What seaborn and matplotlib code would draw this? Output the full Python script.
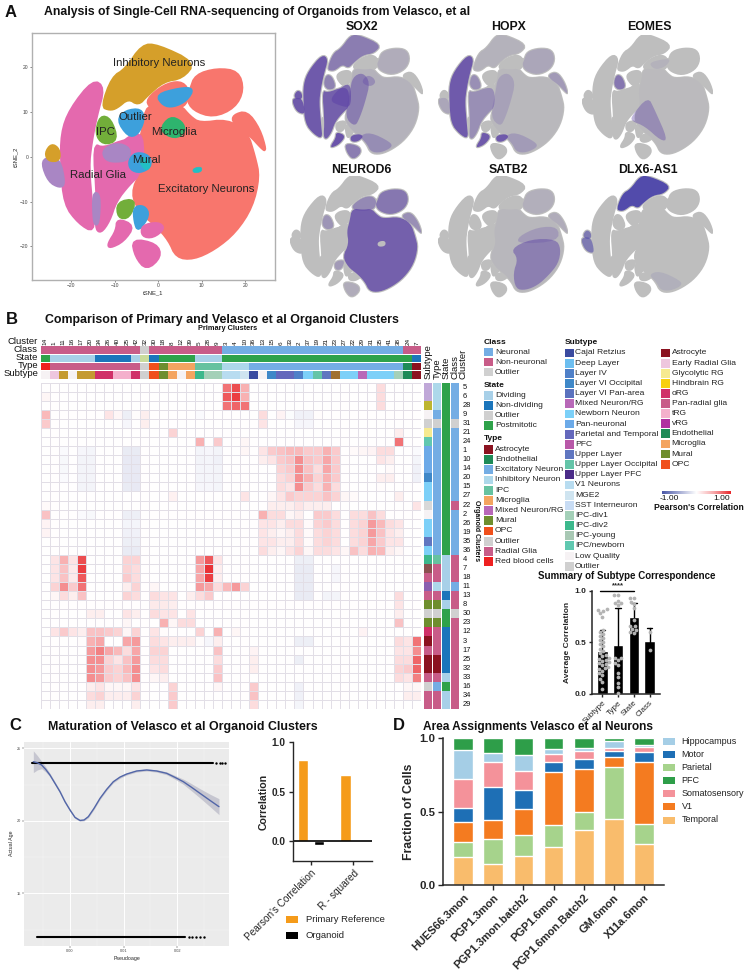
import warnings
import numpy as np
import pandas as pd
import matplotlib
matplotlib.use("Agg")
import matplotlib.pyplot as plt
from matplotlib.colors import ListedColormap, LinearSegmentedColormap
from matplotlib.patches import Rectangle
import seaborn as sns

warnings.filterwarnings("ignore")
sns.set_theme(style="white")
plt.rcParams["font.family"] = ["Liberation Sans", "DejaVu Sans"]

# ---------------- DATA: tSNE cluster outlines (tSNE_1, tSNE_2) ----------------
EN_MAIN = [(-6.2,-8.2),(-3.8,-3.0),(-4.6,2.2),(-3.5,6.3),(-2.6,11.6),(1.9,11),(5.0,11.5),(7.3,8.9),(9.6,7.4),(15.8,8.2),(20.4,5.6),(22.2,0),(23.2,-4.5),(21.6,-11.2),(17.8,-16.8),(13,-20.6),(8.1,-22.8),(4.2,-22.4),(2.5,-18.6),(-0.6,-15.2),(-4,-12.6)]
EN_UP = [(7.4,14.9),(8.6,18.2),(13.5,19.6),(18.4,19),(19.6,14.9),(17.6,11),(12.7,8.9),(8.1,10.4),(6.6,13)]
EN_SLIVER = [(17.3,9.2),(20.4,10.1),(23.3,6.2),(24.8,1.3),(23.8,2.0),(21.2,4.8),(17.3,7.6)]
EN_MID = [(-2.6,12.8),(1.2,15.9),(5,16.8),(7,15),(6.5,12),(5,11),(1.9,10.4),(-1.9,11)]
INH = [(-13,11.2),(-10.6,17.7),(-7.5,19.5),(-3.7,24.9),(-0.2,24.9),(8.4,21),(5.6,17.6),(1.2,16.9),(-2.7,13.6),(-4.6,11.6),(-6.9,13.1),(-9.6,10.9),(-11.2,10.5)]
RG_OUT = [(-22.3,5.2),(-20.3,10.6),(-15,17.1),(-12.5,15.4),(-14.3,9),(-15.5,3),(-16.1,-2.2),(-15.3,-11.2),(-14.8,-16.8),(-18.3,-14.8),(-21.6,-10.6),(-22.3,-2.2)]
RG_IN = [(-14.9,2.8),(-12.7,1.8),(-7.3,3.9),(-4.4,3.2),(-4.2,-3.9),(-6.7,-6.1),(-9.8,-9.9),(-11.3,-14.3),(-13.3,-17),(-14.4,-15.8),(-14,-9.7)]
RG_BRIDGE = [(-9,2.8),(-4,6),(-3.4,-0.5),(-4.2,-4.2),(-8,-3.4),(-12,-1.5)]
LEFT_PURPLE = [(-26.8,-1.5),(-25.6,-0.2),(-22.8,-0.5),(-21.6,-6),(-22.7,-6.8),(-25.2,-5.5)]
LEFT_GOLD = [(-26,0.8),(-24.6,2.8),(-22.9,1.7),(-22.8,-0.8),(-25.2,-0.9)]
IPC = [(-13.3,9.1),(-11,8.4),(-9.4,3.7),(-12.7,2.8),(-14.4,5.2)]
OUTLIER = [(-7.5,10.2),(-4,10.6),(-3.3,8.2),(-4.8,5),(-6.9,4.6),(-9.4,8.2)]
CENTER_PURPLE = [(-12.7,1.5),(-9.6,3),(-6.5,1.9),(-6.9,-0.7),(-10.4,-1.1),(-12.3,-0.4)]
MURAL_BLUE = [(-6.7,-0.7),(-5,0.9),(-2.1,0.2),(-1.7,-2.2),(-4.2,-3.5),(-6.4,-2.8)]
MURAL_TEAL = [(-3.8,0),(-1.9,-1.5),(-2.6,-3),(-4,-1.5)]
MICROGLIA = [(2.7,8.9),(5.4,7.8),(6.2,5.6),(3.8,4.1),(0.4,5.9)]
TOP_BLUE = [(-0.4,13.8),(5,15.2),(8.1,15.2),(6.5,12.6),(3.5,11.2),(1.2,11.5)]
TEAL_SPOT = [(8,-2.6),(10,-2.2),(10,-3.4),(8,-3.6)]
LOW_GREEN = [(-9.4,-10.2),(-5.2,-9.5),(-6.7,-13.6),(-9.2,-13.6)]
LOW_BLUE = [(-5.6,-11.3),(-3.3,-11),(-2.1,-13),(-4.6,-16.6),(-5.4,-14.5)]
LOW_PURPLE = [(-15,-8),(-13.5,-8.5),(-13.8,-15),(-14.8,-15)]
LOBE_A = [(-9.4,-13.9),(-5.6,-15.4),(-8,-18.8),(-11.2,-20.3),(-11.5,-19.4),(-9.6,-16.5)]
LOBE_B = [(-3.7,-15.4),(0,-14.7),(1.4,-16),(-1.2,-18),(-3.7,-17.7)]
LOBE_C = [(-6,-18.4),(-0.4,-19.5),(0.6,-22.3),(-2.7,-25.2),(-5.2,-22.3)]

OUTLINES = [EN_MAIN, EN_UP, EN_SLIVER, EN_MID, INH, RG_OUT, RG_IN, RG_BRIDGE, LEFT_PURPLE, LEFT_GOLD, IPC, OUTLIER,
            CENTER_PURPLE, MURAL_BLUE, MURAL_TEAL, MICROGLIA, TOP_BLUE, LOW_GREEN, LOW_BLUE, LOW_PURPLE, LOBE_A, LOBE_B, LOBE_C]
OUTLINE_CLASS = ["Ex", "Ex", "Ex", "Ex", "In", "RG", "RG", "RG", "Pu", "Go", "IPC", "Ou", "Pu", "Ou", "Mu", "Mi", "Ou", "IPC", "Ou", "Pu", "RG", "RG", "RG"]

TSNE_LABELS = ["Inhibitory Neurons", "Outlier", "IPC", "Microglia", "Mural", "Radial Glia", "Excitatory Neurons"]
TSNE_LABEL_X = [0.15, -5.2, -12.2, 3.6, -2.7, -13.8, 11]
TSNE_LABEL_Y = [21, 8.9, 5.5, 5.5, -0.7, -4.1, -7.1]

# gene expression zones
EN_WEST = [(-6,-8),(-4,2),(-3,8),(1,10),(4,6),(2,-2),(0,-8),(-2,-12)]
EN_SOUTH = [(-0.4,-15.6),(4,-14),(12,-18),(12.7,-20.1),(8.1,-22.3),(4.2,-21.9),(2.7,-18.6)]
EOMES_ZONE = [(-7.3,-7.6),(-0.8,0.3),(1.8,-5),(7,-17),(4.4,-17.6),(-2.1,-11.6),(-7.3,-9.6)]
SATB2_LOW = [(2,-5),(10,-1),(20,-1),(22,-5),(21,-11),(17,-16),(12.7,-20),(8,-22),(4,-21.5),(3,-15),(5,-9)]
SATB2_MID = [(5,0),(13,4),(21,4),(21,-2),(5,-3)]
SOX2_ZONES = [(RG_OUT,.85),(RG_IN,.8),(RG_BRIDGE,.7),(LEFT_PURPLE,.85),(LEFT_GOLD,.85),(INH,.55),(IPC,.5),(LOBE_A,.9),(LOBE_B,.85),(LOBE_C,.55),(EN_WEST,.5),(EN_SOUTH,.35),(EN_MAIN,.1),(EN_UP,.15),(MICROGLIA,.35)]
HOPX_ZONES = [(RG_OUT,.85),(RG_IN,.4),(LEFT_PURPLE,.2),(LOBE_A,.85),(LOBE_B,.85),(INH,.1),(EN_UP,.2),(EN_SLIVER,.3),(EN_WEST,.2),(EN_SOUTH,.25),(EN_MAIN,.05),(IPC,.4)]
EOMES_ZONES = [(IPC,.6),(EOMES_ZONE,.4),(EN_MAIN,.03),(TOP_BLUE,.1)]
NEUROD6_ZONES = [(EN_MAIN,.8),(EN_MID,.45),(EN_UP,.6),(EN_SLIVER,.4),(IPC,.35),(LOBE_C,.15),(LOW_GREEN,.3)]
SATB2_ZONES = [(SATB2_LOW,.5),(SATB2_MID,.25),(EN_MAIN,.06),(EN_UP,.12),(EN_SLIVER,.15)]
DLX6_ZONES = [(INH,.85),(LEFT_GOLD,.5),(LEFT_PURPLE,.5),(EN_SOUTH,.1)]
GENES = ["SOX2", "HOPX", "EOMES", "NEUROD6", "SATB2", "DLX6-AS1"]
GENE_ZONES = [SOX2_ZONES, HOPX_ZONES, EOMES_ZONES, NEUROD6_ZONES, SATB2_ZONES, DLX6_ZONES]

# ---------------- DATA: heatmap ----------------
COL_CLUSTERS = ["14","1","11","16","17","20","34","26","40","25","42","32","30","18","8","12","39","5","28","9","3","4","10","36","13","15","6","33","2","37","19","21","23","27","22","29","31","35","41","38","24","7"]
ROW_CLUSTERS = ["5","6","28","9","31","21","24","1","10","14","20","15","27","22","2","26","19","35","36","4","7","18","11","13","8","30","23","12","3","17","25","32","33","16","34","29"]
# per organoid cluster: {primary column index: correlation in percent}
HEAT_ROWS = [
 {20:70,21:85,22:45,28:-2,37:20},
 {0:5,20:80,21:90,22:45,37:20},
 {20:70,21:75,22:70,37:20},
 {0:40,7:15,8:5,9:-10,10:2,11:10,17:-3,24:20,26:7,27:-2,28:-8,29:-8,30:2},
 {0:30,9:-5,11:10,24:15,28:-5,29:-5},
 {14:25,39:10},
 {17:45,19:30,22:5,39:70},
 {2:-3,4:-5,5:-6,9:-12,10:-12,17:-6,18:-5,19:-7,22:5,24:15,25:30,26:35,27:40,28:40,29:30,30:30,31:45,32:30,34:3,35:5,36:7,37:20,38:20,41:-3},
 {2:-4,4:-7,5:-7,9:-13,10:-13,17:-7,18:-6,19:-8,24:10,25:15,26:30,27:35,28:60,29:35,30:30,31:50,32:30,37:15,38:10,41:-6},
 {2:-4,4:-7,5:-7,9:-13,10:-13,17:-6,18:-6,19:-7,26:25,27:30,28:60,29:35,30:20,31:50,32:30,38:3,41:-8},
 {2:-3,4:-7,5:-7,9:-13,10:-13,17:-6,18:-6,19:-7,26:20,27:25,28:60,29:45,30:25,31:45,32:30,37:10,38:10,41:-8},
 {4:-7,5:-7,9:-12,10:-13,17:-5,18:-5,19:-6,26:20,27:15,28:60,29:30,30:20,31:45,32:20,37:2},
 {14:8,22:15,25:5,26:15,27:30,28:25,29:25,30:25,31:35,32:25,33:5,34:3,39:10},
 {0:3,25:10,26:10,27:10,28:15,29:10,30:10,31:10,41:15},
 {0:35,4:-3,5:-4,9:-10,10:-10,24:45,25:20,26:20,27:5,28:10,30:30,31:30,32:20,34:20,35:20,36:35,37:20},
 {0:7,9:-6,10:-6,24:15,25:15,26:10,27:20,28:20,29:3,30:25,31:30,32:20,34:20,35:25,36:55,37:40,38:20,39:15},
 {0:7,9:-8,10:-8,24:15,25:10,26:5,27:10,28:20,29:3,30:20,31:25,32:20,34:20,35:25,36:55,37:35,38:15,39:10},
 {9:-10,10:-10,24:15,25:15,26:10,27:10,28:20,29:3,30:20,31:25,32:20,34:20,35:25,36:50,37:30,38:15,39:15},
 {9:-12,10:-12,24:20,25:10,26:5,27:15,28:25,29:5,30:20,31:20,32:15,33:5,34:35,35:20,36:45,37:40,38:10,39:5},
 {1:15,2:45,3:15,4:85,9:25,10:25,17:55,18:80,19:15,28:-10,29:-10},
 {1:15,2:35,3:12,4:90,9:25,10:20,17:50,18:95,19:10,28:-12,29:-12,32:-5},
 {1:15,2:35,3:12,4:80,9:30,10:20,17:50,18:90,19:10,28:-12,29:-12,32:-5},
 {1:25,2:60,3:30,4:70,9:10,10:25,12:5,17:55,18:50,19:20,20:40,21:55,22:25,28:-12,29:-12},
 {1:5,2:20,3:10,4:35,9:25,10:20,12:20,13:15,14:15,16:10,17:20,18:30,28:-12,29:-12,31:-7,32:-7,39:20},
 {12:12,13:12,14:10,39:15},
 {5:10,6:10,9:15,10:10,12:20,13:15,14:15,16:15,39:10},
 {9:5,13:45,14:5,15:20,16:20,39:35},
 {1:15,2:30,3:15,4:10,5:35,6:35,7:30,8:25,9:5,10:25,12:15,13:2,17:25,19:45,21:5,35:7},
 {4:2,5:45,6:50,9:50,10:55,12:20,13:15,14:10,15:10,16:10,17:2,18:-5,19:10,28:-10,29:-10,39:20,40:15,41:70},
 {5:55,6:65,7:50,8:40,9:20,10:50,12:25,13:25,19:35,23:7,39:15,40:15,41:60},
 {5:60,6:60,7:25,8:15,9:35,10:55,12:20,13:20,19:20,23:10,28:-10,39:20,40:20,41:75},
 {5:60,6:55,7:30,8:25,9:40,10:60,12:15,13:20,19:30,23:10,39:25,40:30,41:75},
 {5:60,6:55,7:30,8:25,9:35,10:60,12:5,13:10,19:35,39:20,40:15,41:65},
 {5:10,6:15,7:5,8:5,9:5,10:15,14:25,19:5,23:30,28:-8,40:5,41:5},
 {5:20,6:25,7:10,8:10,9:10,10:25,14:30,23:35,28:-8,40:10,41:10},
 {5:10,6:10,10:10,14:30,23:20,28:-6},
]

CLASS_NAMES = ["Neuronal", "Non-neuronal", "Outlier"]
STATE_NAMES = ["Dividing", "Non-dividing", "Outlier", "Postmitotic"]
TYPE_NAMES = ["Astrocyte", "Endothelial", "Excitatory Neuron", "Inhibitory Neuron", "IPC", "Microglia", "Mixed Neuron/RG", "Mural", "OPC", "Outlier", "Radial Glia", "Red blood cells"]
SUBTYPE_NAMES_A = ["Cajal Retzius", "Deep Layer", "Layer IV", "Layer VI Occipital", "Layer VI Pan-area", "Mixed Neuron/RG", "Newborn Neuron", "Pan-neuronal", "Parietal and Temporal", "PFC", "Upper Layer", "Upper Layer Occipital", "Upper Layer PFC", "V1 Neurons", "MGE2", "SST Interneuron", "IPC-div1", "IPC-div2", "IPC-young", "IPC/newborn", "Low Quality", "Outlier"]
SUBTYPE_NAMES_B = ["Astrocyte", "Early Radial Glia", "Glycolytic RG", "Hindbrain RG", "oRG", "Pan-radial glia", "tRG", "vRG", "Endothelial", "Microglia", "Mural", "OPC"]

N, NN, OT = "Neuronal", "Non-neuronal", "Outlier"
DI, ND, PM = "Dividing", "Non-dividing", "Postmitotic"
TOP_CLASS = [NN]*11 + [OT] + [NN]*8 + [N]*20 + [NN]*2
TOP_STATE = [PM] + [DI]*5 + [ND]*4 + [DI] + ["OutlierG"] + [ND] + [PM]*4 + [DI]*3 + [PM]*21 + [ND]
TOP_TYPE = ["Red blood cells"] + ["Radial Glia"]*10 + ["Outlier", "OPC", "Mural"] + ["Microglia"]*3 + ["IPC"]*3 + ["Inhibitory Neuron"]*3 + ["Excitatory Neuron"]*17 + ["Endothelial", "Astrocyte"]
TOP_SUBTYPE = ["Low Quality","Early Radial Glia","Gold","Low Quality","Gold","Gold","oRG","oRG","tRG","tRG","oRG","Outlier","OPC","Mural","Microglia","Low Quality","Microglia","IPC-div2","IPC-div1","IPC-div1","V1 Neurons","V1 Neurons","MGE2","Cajal Retzius","Low Quality","Layer VI Occipital","Parietal and Temporal","Parietal and Temporal","Layer IV","Newborn Neuron","Upper Layer Occipital","Upper Layer","Brown","Newborn Neuron","Newborn Neuron","Mixed Neuron/RG","Newborn Neuron","Newborn Neuron","Newborn Neuron","IPC-div1","Endothelial","Astrocyte"]
RIGHT_SUBTYPE = ["Lilac","Lilac","OliveY","Low Quality","Outlier","Glycolytic RG","IPC/newborn","Pan-neuronal","Pan-neuronal","Pan-neuronal","Layer VI Occipital","Newborn Neuron","Newborn Neuron","MGE3","Low Quality","Newborn Neuron","Newborn Neuron","Upper Layer","Newborn Neuron","IPC-div2","BrownR","Pan-radial glia","Violet","Pan-radial glia","Mural","Outlier","Mural","oRG","Astrocyte","Pan-radial glia","Astrocyte","Astrocyte","Pan-radial glia","Outlier","Pan-radial glia","Pan-radial glia"]
RIGHT_TYPE = ["Inhibitory Neuron"]*3 + ["Excitatory Neuron","Outlier"] + ["Excitatory Neuron"]*14 + ["IPC","Radial Glia","Radial Glia","Inhibitory Neuron","Radial Glia","Mural","Outlier","Mural","Radial Glia","Radial Glia","Radial Glia","Astrocyte","Astrocyte","Radial Glia","Excitatory Neuron","Radial Glia","Radial Glia"]
RIGHT_STATE = [PM]*19 + [DI]*4 + [ND,DI,PM,PM] + [ND]*5 + [DI,PM,DI,DI]
RIGHT_CLASS = [N]*4 + [OT] + [N]*8 + [NN] + [N]*5 + [NN]*3 + [N] + [NN]*2 + [OT] + [NN]*10

# ---------------- DATA: summary bars ----------------
SUMMARY_GROUPS = ["Subtype", "Type", "State", "Class"]
SUMMARY_SUBTYPE = [.05,.12,.15,.18,.2,.22,.24,.25,.26,.28,.78,.81,.29,.3,.31,.32,.33,.34,.35,.37,.38,.4,.42,.44,.46,.48,.5,.52,.54,.56,.58,.6,.62,.75,.8,.82]
SUMMARY_TYPE = [.01,.07,.11,.16,.2,.28,.3,.33,.35,.35,.86,.88,.88,.9,.96,.96]
SUMMARY_STATE = [.59,.6,.62,.63,.66,.66,.72,.83,.87,.89,.93,.93]
SUMMARY_CLASS = [.43,.6]

# ---------------- DATA: panel C ----------------
CURVE_X = [-.00683,-.00609,-.00528,-.00453,-.00373,-.00280,-.00186,-.00093,0,.00093,.00186,.00261,.00342,.00447,.00559,.00683,.00807,.00932,.01056,.01242,.01429,.01615,.01801,.01957,.02112,.02267,.02422,.02609,.02776]
CURVE_Y = [24.08,24.01,23.85,23.55,23.16,22.59,22.01,21.32,20.75,20.24,20.03,20.06,20.29,20.86,21.55,22.17,22.70,23.02,23.23,23.44,23.51,23.44,23.28,23.0,22.7,22.31,21.9,21.41,20.98]
CURVE_CI = [.75,.5,.25,.18,.12,.11,.1,.09,.08,.07,.06,.06,.08,.08,.08,.08,.08,.08,.07,.07,.07,.08,.1,.13,.18,.25,.32,.43,.55]
AGE_OLD_SPAN = [-.0070, .0267]
AGE_OLD_EXTRA = [.0272,.0280,.0284,.0288]
AGE_YOUNG_SPAN = [-.0062, .0215]
AGE_YOUNG_EXTRA = [.0222,.0228,.0235,.0242,.0250]
CORR_LABELS = ["Pearson's Correlation", "R - squared"]
CORR_PRIMARY = [.82, .665]
CORR_ORGANOID = [-.04, 0]

# ---------------- DATA: panel D ----------------
SAMPLES = ["HUES66.3mon","PGP1.3mon","PGP1.3mon.batch2","PGP1.6mon","PGP1.6mon.Batch2","GM.6mon","X11a.6mon"]
TEMPORAL = [.193,.14,.2,.26,.377,.452,.28]
PARIETAL = [.097,.174,.143,.147,.123,.353,.136]
V1 = [.142,.126,.173,.366,.29,.07,.424]
MOTOR = [.095,.23,.129,.067,.067,.041,.07]
SOMATO = [.193,.17,.135,.05,.059,.02,.033]
HIPPO = [.2,.06,.104,.037,.02,.046,.012]
PFC = [.08,.1,.116,.073,.064,.018,.045]

# ---------------- STYLE ----------------
FIG_W, FIG_H = 750, 977
fig = plt.figure(figsize=(FIG_W/100, FIG_H/100), dpi=100, facecolor="white")

def box(l, t, r, b):
    return fig.add_axes([l/FIG_W, 1-b/FIG_H, (r-l)/FIG_W, (b-t)/FIG_H])

ov = fig.add_axes([0, 0, 1, 1], zorder=20)
ov.set_xlim(0, FIG_W); ov.set_ylim(FIG_H, 0); ov.axis("off"); ov.patch.set_alpha(0)

def T(x, y, s, size=7, bold=False, ha="left", va="center", rot=0, color="#111111", mode="default"):
    ov.text(x, y, s, fontsize=size, fontweight="bold" if bold else "normal", ha=ha, va=va,
            rotation=rot, color=color, rotation_mode=mode)

def rounded(poly, passes=2):
    """Corner-cut an outline so that drawn blobs have soft edges."""
    pts = np.array(poly, dtype=float)
    for _ in range(passes):
        nxt = np.roll(pts, -1, axis=0)
        pts = np.column_stack([.75*pts+.25*nxt, .25*pts+.75*nxt]).reshape(-1, 2)
    return pts[:, 0], pts[:, 1]

CLUSTER_COLORS = {"Ex":"#F8766D","In":"#D59F2A","RG":"#E469AE","Pu":"#A986C4","Go":"#D59F2A","IPC":"#72AE3A","Ou":"#3DA0DC","Mu":"#22BFC4","Mi":"#2EB46E"}
CLASS_COL = dict(zip(CLASS_NAMES, ["#74ADE4","#C85C88","#D0D0D0"]))
STATE_COL = dict(zip(STATE_NAMES, ["#A8D0E8","#1B75BB","#D0D0D0","#2EA24A"]))
TYPE_COL = dict(zip(TYPE_NAMES, ["#8B1220","#1E8B58","#74ADE4","#ADD8EA","#66C2A0","#F4A460","#B868B8","#6E8E2E","#F0501C","#D0D0D0","#C85C88","#EE2020"]))
SUB_A_COL = dict(zip(SUBTYPE_NAMES_A, ["#3B4BA0","#6CBEF0","#4F80C8","#3F88C8","#5A72BE","#B868B8","#7CD0F8","#6CAAE8","#6468BC","#B858A8","#6076C0","#64C4A8","#4B2C88","#B8DCF0","#CFE4F0","#C8DCF4","#A4D0B8","#3CB88C","#A8C8B4","#60C8B0","#F6F2F4","#D0D0D0"]))
SUB_B_COL = dict(zip(SUBTYPE_NAMES_B, ["#8B1220","#EEC6DE","#F6EA90","#F8D010","#D03068","#C85C88","#F4B0CC","#B030A0","#1E8B58","#F4A460","#6E8E2E","#F0501C"]))
EXTRA_COL = {"Gold":"#C49A30","Brown":"#A07030","Lilac":"#C0A8D8","OliveY":"#BDB530","MGE3":"#D8D8D8","BrownR":"#8B5050","Violet":"#8A5FB0","OutlierG":"#CADC9C"}
ALL_COL = {**CLASS_COL, **STATE_COL, **TYPE_COL, **SUB_A_COL, **SUB_B_COL, **EXTRA_COL}

# ---------------- Panel A ----------------
T(5, 12.5, "A", 12, True); T(44, 12.5, "Analysis of Single-Cell RNA-sequencing of Organoids from Velasco, et al", 8.8, True)
ax = box(32, 33, 275, 280)
for poly, cat in zip(OUTLINES, OUTLINE_CLASS):
    xs, ys = rounded(poly)
    ax.fill(xs, ys, color=CLUSTER_COLORS[cat], lw=2.2, joinstyle="round")
xs, ys = rounded(TEAL_SPOT); ax.fill(xs, ys, color=CLUSTER_COLORS["Mu"], lw=0.5)
for s, x, y in zip(TSNE_LABELS, TSNE_LABEL_X, TSNE_LABEL_Y):
    ax.text(x, y, s, fontsize=8.2, ha="center", va="center", color="#222222")
ax.set_xlim(-29.1, 26.9); ax.set_ylim(-27.5, 27.6)
ax.set_xticks([-20, -10, 0, 10, 20]); ax.set_yticks([-20, -10, 0, 10, 20])
ax.tick_params(labelsize=3.6, length=1.5, width=.4, bottom=True, left=True, pad=1, labelcolor="#444444")
ax.set_xlabel("tSNE_1", fontsize=4.2, labelpad=1); ax.set_ylabel("tSNE_2", fontsize=4.2, labelpad=1)
for s in ax.spines.values():
    s.set_color("#B0B0B0"); s.set_linewidth(1)

GENE_BOXES = [(292, 35, 423, 160), (438, 35, 568, 160), (582, 35, 713, 160),
              (290, 176, 422, 298), (438, 176, 568, 298), (581, 176, 713, 298)]
GENE_TITLE_X = [362, 509, 649, 361, 508, 648]
GENE_TITLE_Y = [26.7, 26.7, 26.7, 170, 170, 170]
PURPLE = "#6249A8"
for gene, zones, (l, t, r, b), tx, ty in zip(GENES, GENE_ZONES, GENE_BOXES, GENE_TITLE_X, GENE_TITLE_Y):
    a = box(l, t, r, b)
    for poly in OUTLINES:
        xs, ys = rounded(poly)
        a.fill(xs, ys, color="#BEBEBE", lw=1.6, joinstyle="round")
    for poly, alpha in zones:
        xs, ys = rounded(poly)
        a.fill(xs, ys, color="#3F37A8" if gene == "DLX6-AS1" else PURPLE, alpha=alpha, lw=0)
    if gene == "NEUROD6":
        xs, ys = rounded(TEAL_SPOT); a.fill(xs, ys, color="#BEBEBE", lw=2)
    a.set_xlim(-26.8, 24.8); a.set_ylim(-25.2, 24.9); a.axis("off")
    T(tx, ty, gene, 8.8, True, ha="center")

# ---------------- Panel B ----------------
T(6, 320, "B", 12, True); T(45, 320, "Comparison of Primary and Velasco et al Organoid Clusters", 8.95, True)
T(228, 329, "Primary Clusters", 5.3, True, ha="center")
HX0, HX1, HY0, HY1 = 40.7, 421.3, 382.7, 709
hax = box(HX0, HY0, HX1, HY1)
heat = pd.DataFrame(0.0, index=ROW_CLUSTERS, columns=range(len(COL_CLUSTERS)))
for row, cells in zip(ROW_CLUSTERS, HEAT_ROWS):
    for col, val in cells.items():
        heat.loc[row, col] = val/100
corr_cmap = LinearSegmentedColormap.from_list("corr", [(0, "#4A58A8"), (.5, "#FFFFFF"), (.75, "#F7A8AA"), (1, "#E8262A")])
sns.heatmap(heat, ax=hax, cmap=corr_cmap, vmin=-1, vmax=1, cbar=False, linewidths=.4, linecolor="#E2DEE6",
            xticklabels=False, yticklabels=False)
for s in hax.spines.values():
    s.set_visible(False)

def track(values, l, t, r, b, horizontal=True):
    a = box(l, t, r, b)
    cats = list(dict.fromkeys(values))
    codes = np.array([cats.index(v) for v in values], dtype=float)
    mat = codes[None, :] if horizontal else codes[:, None]
    sns.heatmap(mat, ax=a, cmap=ListedColormap([ALL_COL[c] for c in cats]), vmin=-.5, vmax=len(cats)-.5,
                cbar=False, xticklabels=False, yticklabels=False)
    return a

track(TOP_CLASS, HX0, 346, HX1, 353.7)
track(TOP_STATE, HX0, 354.5, HX1, 362)
track(TOP_TYPE, HX0, 362.5, HX1, 370)
track(TOP_SUBTYPE, HX0, 370.8, HX1, 379)
track(RIGHT_SUBTYPE, 424, HY0, 431.7, HY1, False)
track(RIGHT_TYPE, 433, HY0, 440.7, HY1, False)
track(RIGHT_STATE, 442, HY0, 449.7, HY1, False)
track(RIGHT_CLASS, 451, HY0, 458.7, HY1, False)
for name, y in zip(["Cluster", "Class", "State", "Type", "Subtype"], [341, 350, 358, 366, 374]):
    T(38, y, name, 6.8, ha="right")
for name, x in zip(["Subtype", "Type", "State", "Class", "Cluster"], [428, 437, 446, 455, 463.5]):
    T(x, 379, name, 6.8, ha="center", va="bottom", rot=90)
cw = (HX1-HX0)/len(COL_CLUSTERS)
for i, c in enumerate(COL_CLUSTERS):
    T(HX0+(i+.5)*cw, 345, c, 4.6, ha="center", va="bottom", rot=90)
ch = (HY1-HY0)/len(ROW_CLUSTERS)
for i, c in enumerate(ROW_CLUSTERS):
    T(462.5, HY0+(i+.5)*ch, c, 5.4)
T(476.5, 531, "Organoid Clusters", 5, True, ha="center", rot=-90)

def legend_col(title, title_y, names, colors, y0, step, sx, tx, size=6.1):
    if title:
        T(sx, title_y, title, 6, True)
    for i, nm in enumerate(names):
        y = y0+i*step
        ov.add_patch(Rectangle((sx, y-4.4), 9, 8.8, fc=colors[nm], ec="none"))
        T(tx, y, nm, size, color="#222222")

legend_col("Class", 342, CLASS_NAMES, CLASS_COL, 352, 10, 483.5, 495)
legend_col("State", 385.7, STATE_NAMES, STATE_COL, 395.3, 10.1, 483.5, 495)
legend_col("Type", 439, TYPE_NAMES, TYPE_COL, 449.3, 10.2, 483.5, 495)
legend_col("Subtype", 342, SUBTYPE_NAMES_A, SUB_A_COL, 353, 10.15, 565, 575)
legend_col(None, 0, SUBTYPE_NAMES_B, SUB_B_COL, 353, 10.1, 661, 671.7)
cax = box(661.7, 490.7, 730, 494)
cax.imshow(np.linspace(-1, 1, 256)[None, :], cmap=corr_cmap, aspect="auto", vmin=-1, vmax=1)
cax.axis("off")
T(669, 499, "-1.00", 6, ha="center"); T(722, 499, "1.00", 6, ha="center")
T(699, 507.7, "Pearson's Correlation", 6.2, True, ha="center")

# summary
T(626.7, 576, "Summary of Subtype Correspondence", 7, True, ha="center")
sax = box(591.7, 590.7, 660, 694)
sdf = pd.DataFrame({"group": sum([[g]*len(v) for g, v in zip(SUMMARY_GROUPS, [SUMMARY_SUBTYPE, SUMMARY_TYPE, SUMMARY_STATE, SUMMARY_CLASS])], []),
                    "value": SUMMARY_SUBTYPE+SUMMARY_TYPE+SUMMARY_STATE+SUMMARY_CLASS})
sns.barplot(data=sdf, x="group", y="value", order=SUMMARY_GROUPS, color="black", saturation=1, width=.68,
            errorbar="sd", capsize=.35, err_kws={"color": "black", "linewidth": 1}, ax=sax)
sns.swarmplot(data=sdf, x="group", y="value", order=SUMMARY_GROUPS, color="#B4B4B4", size=2.7, ax=sax, zorder=5, clip_on=False)
sax.set_xlim(-.67, 3.65); sax.set_ylim(0, 1)
sax.set_yticks([0, .5, 1]); sax.set_yticklabels(["0.0", "0.5", "1.0"], fontsize=6, fontweight="bold")
sax.set_xlabel(""); sax.set_ylabel("Average Correlation", fontsize=6, fontweight="bold", labelpad=2)
sax.set_xticks(range(4)); sax.set_xticklabels(SUMMARY_GROUPS, rotation=45, ha="right", rotation_mode="anchor", fontsize=5.8)
sax.tick_params(length=2.5, width=1, bottom=True, left=True, pad=1.5)
sns.despine(ax=sax)
for s in ("left", "bottom"):
    sax.spines[s].set_linewidth(1.1)
sax.plot([-.15, 2], [1, 1], color="black", lw=1, clip_on=False)
sax.text(1, 1.01, "****", fontsize=5.5, ha="center", va="bottom", fontweight="bold")

# ---------------- Panel C ----------------
T(9, 725, "C", 12, True); T(47.7, 727, "Maturation of Velasco et al Organoid Clusters", 8.9, True)
cx = box(24, 741.7, 229, 945.7)
cx.set_facecolor("#EBEBEB")
cx.grid(True, color="white", lw=.7); cx.set_axisbelow(True)
cx.set_xticks([-.005, .005, .015, .025], minor=True); cx.set_yticks([12.5, 17.5, 22.5], minor=True)
cx.grid(True, which="minor", color="#F6F6F6", lw=.35)
cx.plot(AGE_OLD_SPAN, [24, 24], color="black", lw=1.5, solid_capstyle="round")
cx.plot(AGE_YOUNG_SPAN, [12, 12], color="black", lw=1.5, solid_capstyle="round")
cx.scatter(AGE_OLD_EXTRA, [24]*len(AGE_OLD_EXTRA), s=3, color="black", lw=0)
cx.scatter(AGE_YOUNG_EXTRA, [12]*len(AGE_YOUNG_EXTRA), s=3, color="black", lw=0)
cy, ce = np.array(CURVE_Y), np.array(CURVE_CI)
cx.fill_between(CURVE_X, cy-ce, cy+ce, color="#9A9AB0", alpha=.45, lw=0)
sns.lineplot(x=CURVE_X, y=CURVE_Y, color="#5266A8", lw=1, ax=cx, errorbar=None)
cx.set_xlim(-.00857, .02963); cx.set_ylim(11.39, 25.46)
cx.set_xticks([0, .01, .02]); cx.set_xticklabels(["0.00", "0.01", "0.02"], fontsize=2.8)
cx.set_yticks([15, 20, 25]); cx.set_yticklabels(["15", "20", "25"], fontsize=2.8)
cx.tick_params(which="major", length=1.2, width=.3, bottom=True, left=True, pad=1, labelcolor="#444444")
cx.tick_params(which="minor", length=0)
cx.set_xlabel("Pseudoage", fontsize=3.8, labelpad=2); cx.set_ylabel("Actual Age", fontsize=3.8, labelpad=2)
for s in cx.spines.values():
    s.set_visible(False)

bx = box(292.7, 742, 372.3, 861.3)
cdf = pd.DataFrame({"metric": CORR_LABELS*2, "value": CORR_PRIMARY+CORR_ORGANOID,
                    "source": ["Primary Reference"]*2+["Organoid"]*2})
sns.barplot(data=cdf, x="metric", y="value", hue="source", palette=["#F59B1A", "black"], saturation=1,
            width=.76, gap=.34, legend=False, ax=bx)
bx.axhline(0, color="black", lw=1.2)
bx.set_xlim(-.433, 1.45); bx.set_ylim(-.2, 1)
bx.set_yticks([0, .5, 1]); bx.set_yticklabels(["0.0", "0.5", "1.0"], fontsize=7.3, fontweight="bold")
bx.set_xlabel(""); bx.set_ylabel("Correlation", fontsize=7.6, fontweight="bold", labelpad=2)
bx.set_xticks([0, 1]); bx.set_xticklabels(CORR_LABELS, rotation=45, ha="right", rotation_mode="anchor", fontsize=7.2)
bx.tick_params(length=3, width=1, bottom=True, left=True, pad=2)
sns.despine(ax=bx)
for s in ("left", "bottom"):
    bx.spines[s].set_linewidth(1)
for name, col, y in [("Primary Reference", "#F59B1A", 919), ("Organoid", "black", 935.7)]:
    ov.add_patch(Rectangle((286, y-3.5), 12, 7, fc=col, ec="none"))
    T(306, y, name, 6.8, color="#222222")

# ---------------- Panel D ----------------
T(393, 725, "D", 12, True); T(423, 726.7, "Area Assignments Velasco et al Neurons", 8.6, True)
dx = box(443.3, 738.3, 664, 885)
AREAS = ["Temporal", "Parietal", "V1", "Motor", "Somatosensory", "Hippocampus", "PFC"]
AREA_VALUES = [TEMPORAL, PARIETAL, V1, MOTOR, SOMATO, HIPPO, PFC]
AREA_COL = dict(zip(AREAS, ["#F9BC6C", "#A6D38C", "#F47B20", "#1E6FB5", "#F4929A", "#A5CEE6", "#2E9E49"]))
cum = np.cumsum(np.array(AREA_VALUES), axis=0)
for i in range(len(AREAS)-1, -1, -1):
    sns.barplot(x=SAMPLES, y=cum[i], color=AREA_COL[AREAS[i]], saturation=1, width=.66, errorbar=None, ax=dx)
dx.set_xlim(-.664, 6.67); dx.set_ylim(0, 1)
dx.set_yticks([0, .5, 1]); dx.set_yticklabels(["0.0", "0.5", "1.0"], fontsize=8.2, fontweight="bold")
dx.set_ylabel("Fraction of Cells", fontsize=8.8, fontweight="bold", labelpad=3)
dx.set_xticks(range(len(SAMPLES)))
dx.set_xticklabels(SAMPLES, rotation=45, ha="right", rotation_mode="anchor", fontsize=7.9, fontweight="bold")
dx.tick_params(length=3.5, width=1, bottom=True, left=True, pad=2)
sns.despine(ax=dx)
for s in ("left", "bottom"):
    dx.spines[s].set_linewidth(1.1)
for i, nm in enumerate(["Hippocampus", "Motor", "Parietal", "PFC", "Somatosensory", "V1", "Temporal"]):
    y = 741.7+i*13.05
    ov.add_patch(Rectangle((662.7, y-3.5), 12.3, 7, fc=AREA_COL[nm], ec="none"))
    T(681.7, y, nm, 6.5, color="#222222")

fig.savefig("out.png", dpi=100)
